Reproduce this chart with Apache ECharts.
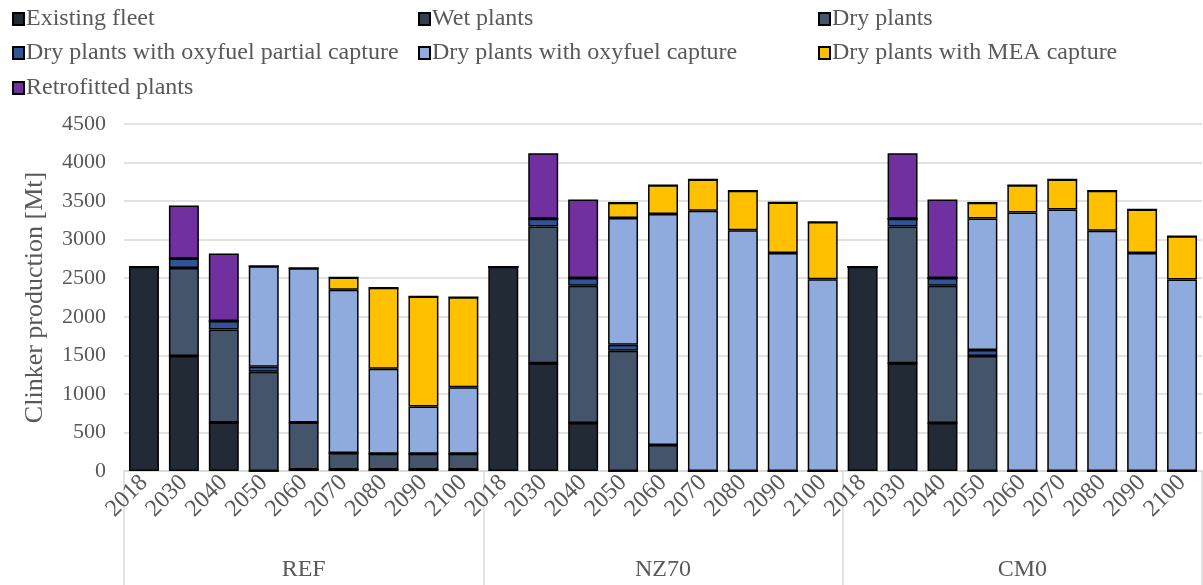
<!DOCTYPE html>
<html>
<head>
<meta charset="utf-8">
<script src="https://cdn.jsdelivr.net/npm/echarts@6/dist/echarts.min.js"></script>
<style>
html,body{margin:0;padding:0;background:#fff;}
#chart{width:1203px;height:585px;}
</style>
</head>
<body>
<div id="chart"></div>
<script>
// ---- data ----
var years = ['2018','2030','2040','2050','2060','2070','2080','2090','2100'];
var scenarios = ['REF','NZ70','CM0'];
var seriesNames = ['Existing fleet','Wet plants','Dry plants','Dry plants with oxyfuel partial capture','Dry plants with oxyfuel capture','Dry plants with MEA capture','Retrofitted plants'];
//                  REF: 2018..2100                                  NZ70: 2018..2100                              CM0: 2018..2100
var existingFleet = [2650,1490,629,0,20,20,20,20,20,                  2650,1397,621,0,0,0,0,0,0,                    2650,1397,621,0,0,0,0,0,0];
var wetPlants     = [0,0,0,0,0,0,0,0,0,                               0,0,0,0,0,0,0,0,0,                            0,0,0,0,0,0,0,0,0];
var dryPlants     = [0,1143,1207,1288,609,213,204,204,204,            0,1775,1780,1560,336,0,0,0,0,                 0,1775,1780,1491,0,0,0,0,0];
var oxyPartial    = [0,122,108,65,0,0,0,0,0,                          0,100,103,78,0,0,0,0,0,                       0,100,103,78,0,0,0,0,0];
var oxyCapture    = [0,0,0,1302,2000,2116,1103,612,862,               0,0,0,1642,2996,3375,3121,2827,2487,          0,0,0,1707,3353,3392,3117,2827,2483];
var meaCapture    = [0,0,0,0,0,160,1048,1427,1168,                    0,0,0,199,375,405,513,656,741,                0,0,0,203,354,388,517,565,560];
var retrofitted   = [0,689,875,0,0,0,0,0,0,                           0,849,1018,0,0,0,0,0,0,                       0,849,1018,0,0,0,0,0,0];
var yTicks = [0,500,1000,1500,2000,2500,3000,3500,4000,4500];

var colors = ['#222a35','#333f50','#44546a','#2f5597','#8faadc','#ffc000','#7030a0'];
var values = [existingFleet, wetPlants, dryPlants, oxyPartial, oxyCapture, meaCapture, retrofitted];

var categories = [];
scenarios.forEach(function(){ years.forEach(function(y){ categories.push(y); }); });

var FONT = '"Liberation Serif", "Times New Roman", serif';
var TXT = '#595959';

var series = seriesNames.map(function(n, i){
  return {
    name: n, type: 'bar', stack: 'total', barWidth: '75%',
    itemStyle: {color: colors[i], borderColor: '#000', borderWidth: 1.5},
    data: values[i]
  };
});

// legend layout: columns/rows like the reference
var legendPos = [
  [0,0],[1,0],[2,0],
  [0,1],[1,1],[2,1],
  [0,2]
];
var colLeft = [12, 418, 818];
var rowTop = [7, 41, 76];
var legends = seriesNames.map(function(n, i){
  return {
    data: [n], left: colLeft[legendPos[i][0]], top: rowTop[legendPos[i][1]],
    itemWidth: 11, itemHeight: 12, itemGap: 0, padding: 0,
    icon: 'rect',
    textStyle: {fontFamily: FONT, fontSize: 24, color: TXT, padding: [0,0,0,-3]},
    selectedMode: false
  };
});

var chart = echarts.init(document.getElementById('chart'), null, {renderer: 'canvas'});
chart.setOption({
  animation: false,
  backgroundColor: '#fff',
  legend: legends,
  grid: {left: 124, right: 1, top: 124, bottom: 114},
  xAxis: [{
    type: 'category', data: categories, gridIndex: 0, position: 'bottom',
    axisLine: {show: true, lineStyle: {color: '#d9d9d9', width: 1.5}},
    axisTick: {show: false},
    axisLabel: {interval: 0, rotate: 45, margin: 8, fontFamily: FONT, fontSize: 24, color: TXT}
  },{
    type: 'category', data: scenarios, gridIndex: 0, position: 'bottom', offset: 114,
    axisLine: {show: false},
    axisTick: {show: true, inside: true, length: 114, lineStyle: {color: '#d9d9d9', width: 1.5}},
    axisLabel: {margin: -27, fontFamily: FONT, fontSize: 24, color: TXT}
  }],
  yAxis: {
    type: 'value', min: yTicks[0], max: yTicks[yTicks.length-1], interval: 500,
    name: 'Clinker production [Mt]', nameLocation: 'middle', nameGap: 76, nameRotate: 90,
    nameTextStyle: {fontFamily: FONT, fontSize: 26, color: TXT},
    axisLine: {show: false}, axisTick: {show: false},
    axisLabel: {margin: 18, fontFamily: FONT, fontSize: 22, color: TXT, formatter: function(v){ return String(v); }},
    splitLine: {lineStyle: {color: '#d9d9d9', width: 1.5}}
  },
  series: series
});
</script>
</body>
</html>
